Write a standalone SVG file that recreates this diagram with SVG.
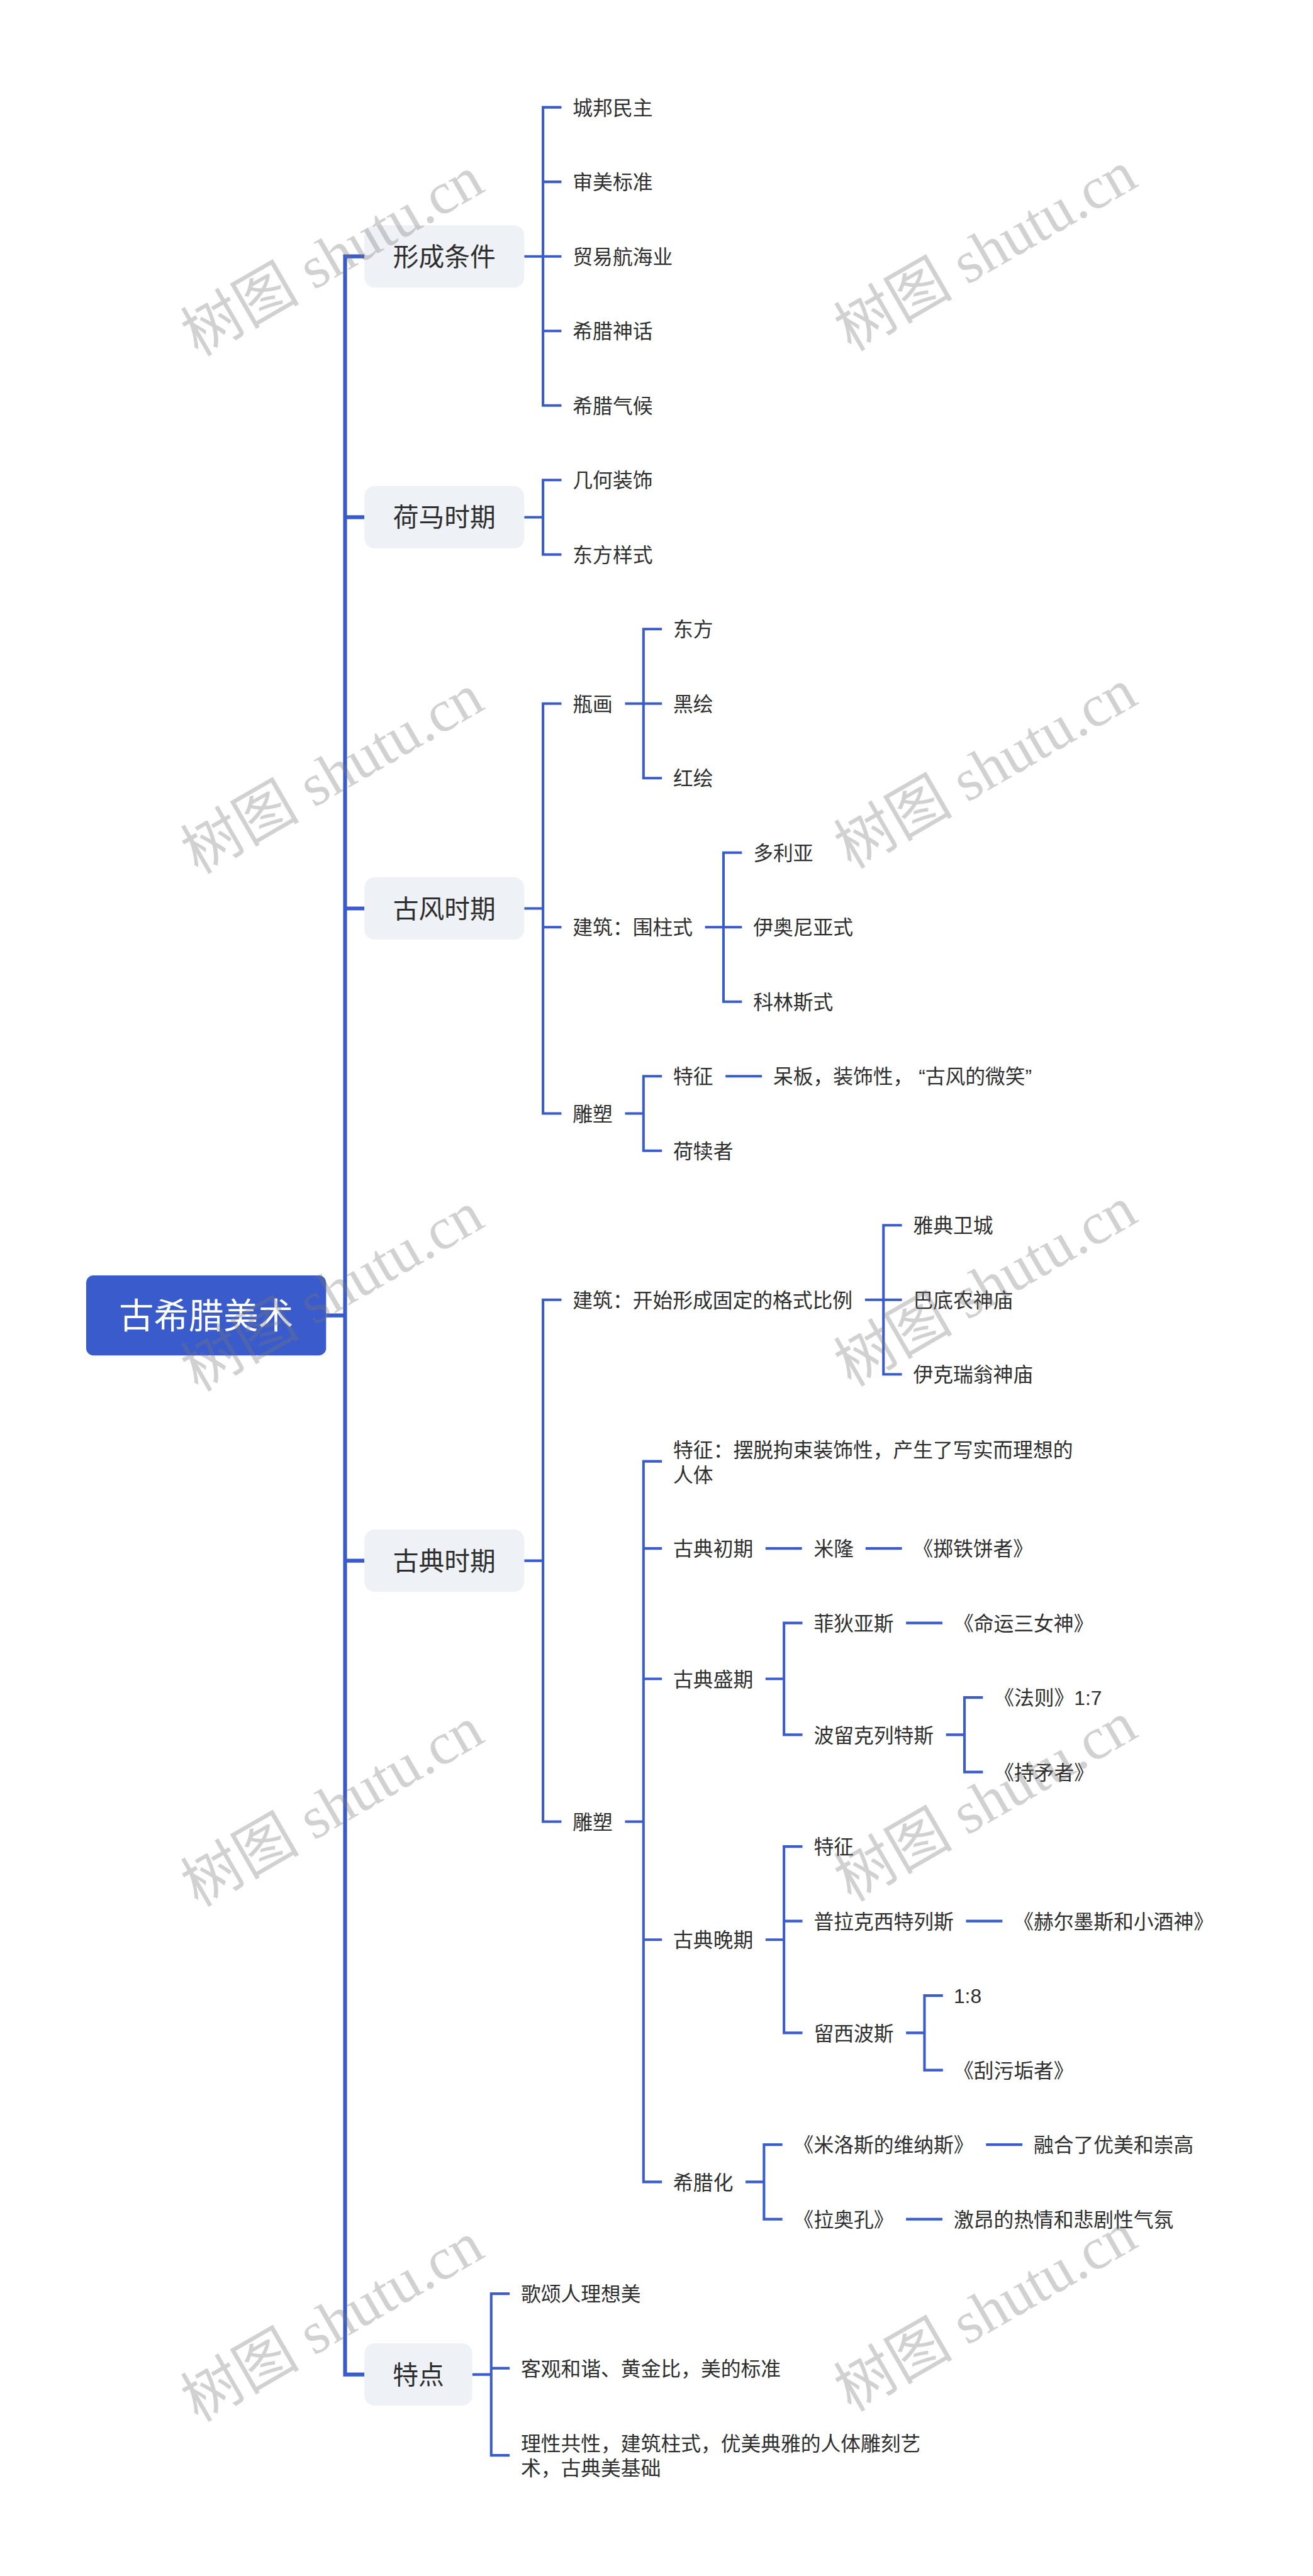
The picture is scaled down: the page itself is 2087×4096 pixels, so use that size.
<svg xmlns="http://www.w3.org/2000/svg" width="2087" height="4096" viewBox="0 0 2087 4096">
<style>
.ln{fill:none;stroke:#3A5BCC;stroke-width:5;stroke-linecap:butt;stroke-linejoin:miter}
.tr{stroke-width:7.5}
.t{font-family:"Liberation Sans","Noto Sans CJK SC",sans-serif;font-size:39px;fill:#2e2e2e;dominant-baseline:central}
.t1{font-size:50px;text-anchor:middle}
.nd{fill:#EEF1F5}
.wm{font-family:"Liberation Serif","Noto Sans CJK SC",serif;font-size:116px;fill:#777;opacity:.33;text-anchor:middle;dominant-baseline:central}
</style>
<rect width="2087" height="4096" fill="#fff"/>
<g transform="scale(0.815)">
<g id="connectors">
<path class="ln tr" d="M710.7 500.2H673V4632.65H710.7M673 1009.1H710.7M673 1772.45H710.7M673 3044.9H710.7M636 2566.4H673"/>
<path class="ln" d="M1022.4 500.2H1059M1095 209.4H1059V791H1095M1059 354.8H1095M1059 500.2H1095M1059 645.6H1095"/>
<path class="ln" d="M1022.4 1009.1H1059M1095 936.4H1059V1081.8H1095"/>
<path class="ln" d="M1022.4 1772.45H1059M1095 1372.6H1059V2172.3H1095M1059 1808.8H1095"/>
<path class="ln" d="M1219 1372.6H1255M1291 1227.2H1255V1518H1291M1255 1372.6H1291"/>
<path class="ln" d="M1375 1808.8H1411M1447 1663.4H1411V1954.2H1447M1411 1808.8H1447"/>
<path class="ln" d="M1219 2172.3H1255M1291 2099.6H1255V2245H1291M1415 2099.6H1486"/>
<path class="ln" d="M1022.4 3044.9H1059M1095 2535.8H1059V3554H1095"/>
<path class="ln" d="M1687 2535.8H1723M1759 2390.4H1723V2681.2H1759M1723 2535.8H1759"/>
<path class="ln" d="M1219 3554H1255M1291 2851.1H1255V4256.9H1291M1255 3021H1291M1255 3275.45H1291M1255 3784.35H1291"/>
<path class="ln" d="M1493 3021H1564M1688 3021H1759"/>
<path class="ln" d="M1493 3275.45H1529M1565 3166.4H1529V3384.5H1565M1767 3166.4H1838"/>
<path class="ln" d="M1845 3384.5H1881M1917 3311.8H1881V3457.2H1917"/>
<path class="ln" d="M1493 3784.35H1529M1565 3602.6H1529V3966.1H1565M1529 3748H1565M1884 3748H1955"/>
<path class="ln" d="M1767 3966.1H1803M1839 3893.4H1803V4038.8H1839"/>
<path class="ln" d="M1454 4256.9H1490M1526 4184.2H1490V4329.6H1526M1923 4184.2H1994M1767 4329.6H1838"/>
<path class="ln" d="M921.2 4632.65H958M994 4475H958V4790.3H994M958 4620.4H994"/>
</g>
<g id="root"><rect x="168" y="2488.4" width="468" height="156" rx="14" fill="#3A5BCC"/><text class="t" x="402" y="2567.5" style="font-size:68px;fill:#fff;text-anchor:middle">古希腊美术</text></g>
<g id="n1"><rect class="nd" x="710.7" y="439.45" width="311.7" height="121.5" rx="20"/><text class="t t1" x="866.55" y="501.5">形成条件</text></g>
<g id="n2"><rect class="nd" x="710.7" y="948.35" width="311.7" height="121.5" rx="20"/><text class="t t1" x="866.55" y="1010.4">荷马时期</text></g>
<g id="n3"><rect class="nd" x="710.7" y="1711.7" width="311.7" height="121.5" rx="20"/><text class="t t1" x="866.55" y="1773.75">古风时期</text></g>
<g id="n4"><rect class="nd" x="710.7" y="2984.15" width="311.7" height="121.5" rx="20"/><text class="t t1" x="866.55" y="3046.2">古典时期</text></g>
<g id="n5"><rect class="nd" x="710.7" y="4571.9" width="210.5" height="121.5" rx="20"/><text class="t t1" x="815.95" y="4633.95">特点</text></g>
<g transform="translate(0 1.5)">
<g id="l1"><text class="t" x="1117" y="209.4">城邦民主</text></g>
<g id="l2"><text class="t" x="1117" y="354.8">审美标准</text></g>
<g id="l3"><text class="t" x="1117" y="500.2">贸易航海业</text></g>
<g id="l4"><text class="t" x="1117" y="645.6">希腊神话</text></g>
<g id="l5"><text class="t" x="1117" y="791">希腊气候</text></g>
<g id="l6"><text class="t" x="1117" y="936.4">几何装饰</text></g>
<g id="l7"><text class="t" x="1117" y="1081.8">东方样式</text></g>
<g id="l8"><text class="t" x="1117" y="1372.6">瓶画</text></g>
<g id="l9"><text class="t" x="1117" y="1808.8">建筑：围柱式</text></g>
<g id="l10"><text class="t" x="1117" y="2172.3">雕塑</text></g>
<g id="l11"><text class="t" x="1117" y="2535.8">建筑：开始形成固定的格式比例</text></g>
<g id="l12"><text class="t" x="1117" y="3554">雕塑</text></g>
<g id="l13"><text class="t" x="1313" y="1227.2">东方</text></g>
<g id="l14"><text class="t" x="1313" y="1372.6">黑绘</text></g>
<g id="l15"><text class="t" x="1313" y="1518">红绘</text></g>
<g id="l16"><text class="t" x="1469" y="1663.4">多利亚</text></g>
<g id="l17"><text class="t" x="1469" y="1808.8">伊奥尼亚式</text></g>
<g id="l18"><text class="t" x="1469" y="1954.2">科林斯式</text></g>
<g id="l19"><text class="t" x="1313" y="2099.6">特征</text></g>
<g id="l20"><text class="t" x="1508" y="2099.6">呆板，装饰性， “古风的微笑”</text></g>
<g id="l21"><text class="t" x="1313" y="2245">荷犊者</text></g>
<g id="l22"><text class="t" x="1781" y="2390.4">雅典卫城</text></g>
<g id="l23"><text class="t" x="1781" y="2535.8">巴底农神庙</text></g>
<g id="l24"><text class="t" x="1781" y="2681.2">伊克瑞翁神庙</text></g>
<g id="l25"><text class="t" x="1313" y="2828">特征：摆脱拘束装饰性，产生了写实而理想的</text><text class="t" x="1313" y="2877">人体</text></g>
<g id="l26"><text class="t" x="1313" y="3021">古典初期</text></g>
<g id="l27"><text class="t" x="1587" y="3021">米隆</text></g>
<g id="l28"><text class="t" x="1781" y="3021">《掷铁饼者》</text></g>
<g id="l29"><text class="t" x="1313" y="3275.45">古典盛期</text></g>
<g id="l30"><text class="t" x="1587" y="3166.4">菲狄亚斯</text></g>
<g id="l31"><text class="t" x="1860" y="3166.4">《命运三女神》</text></g>
<g id="l32"><text class="t" x="1587" y="3384.5">波留克列特斯</text></g>
<g id="l33"><text class="t" x="1939" y="3311.8">《法则》1:7</text></g>
<g id="l34"><text class="t" x="1939" y="3457.2">《持矛者》</text></g>
<g id="l35"><text class="t" x="1313" y="3784.35">古典晚期</text></g>
<g id="l36"><text class="t" x="1587" y="3602.6">特征</text></g>
<g id="l37"><text class="t" x="1587" y="3748">普拉克西特列斯</text></g>
<g id="l38"><text class="t" x="1977" y="3748">《赫尔墨斯和小酒神》</text></g>
<g id="l39"><text class="t" x="1587" y="3966.1">留西波斯</text></g>
<g id="l40"><text class="t" x="1860" y="3893.4">1:8</text></g>
<g id="l41"><text class="t" x="1860" y="4038.8">《刮污垢者》</text></g>
<g id="l42"><text class="t" x="1313" y="4256.9">希腊化</text></g>
<g id="l43"><text class="t" x="1548" y="4184.2">《米洛斯的维纳斯》</text></g>
<g id="l44"><text class="t" x="2016" y="4184.2">融合了优美和崇高</text></g>
<g id="l45"><text class="t" x="1548" y="4329.6">《拉奥孔》</text></g>
<g id="l46"><text class="t" x="1860" y="4329.6">激昂的热情和悲剧性气氛</text></g>
<g id="l47"><text class="t" x="1016" y="4475">歌颂人理想美</text></g>
<g id="l48"><text class="t" x="1016" y="4620.4">客观和谐、黄金比，美的标准</text></g>
<g id="l49"><text class="t" x="1016" y="4766">理性共性，建筑柱式，优美典雅的人体雕刻艺</text><text class="t" x="1016" y="4815">术，古典美基础</text></g>
</g>
<g id="watermarks">
<text class="wm" transform="translate(648 500) rotate(-30)">树图 shutu.cn</text>
<text class="wm" transform="translate(648 1510) rotate(-30)">树图 shutu.cn</text>
<text class="wm" transform="translate(648 2520) rotate(-30)">树图 shutu.cn</text>
<text class="wm" transform="translate(648 3525) rotate(-30)">树图 shutu.cn</text>
<text class="wm" transform="translate(648 4530) rotate(-30)">树图 shutu.cn</text>
<text class="wm" transform="translate(1922 490) rotate(-30)">树图 shutu.cn</text>
<text class="wm" transform="translate(1922 1500) rotate(-30)">树图 shutu.cn</text>
<text class="wm" transform="translate(1922 2510) rotate(-30)">树图 shutu.cn</text>
<text class="wm" transform="translate(1922 3515) rotate(-30)">树图 shutu.cn</text>
<text class="wm" transform="translate(1922 4510) rotate(-30)">树图 shutu.cn</text>
</g>
</g>
</svg>
